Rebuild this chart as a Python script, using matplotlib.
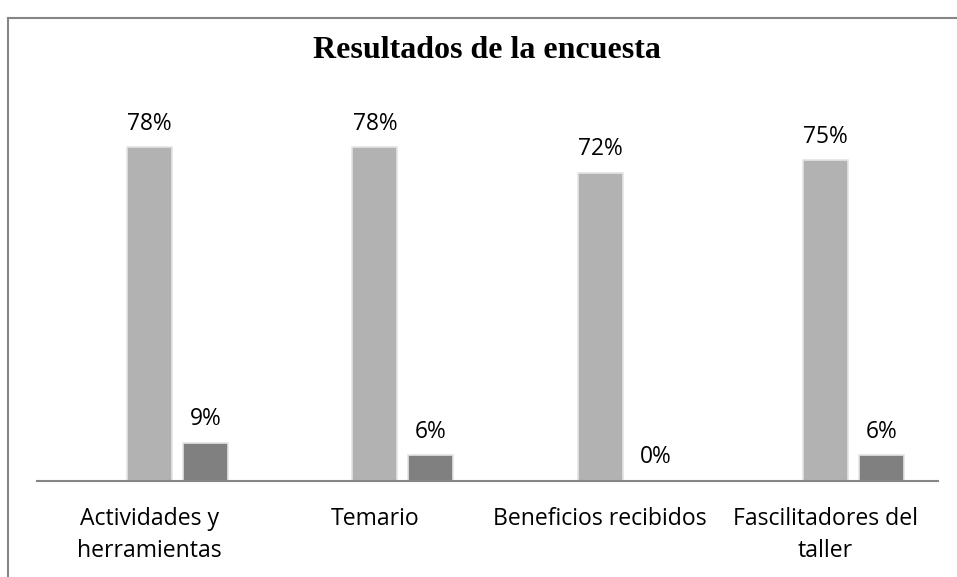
import numpy as np
import matplotlib
matplotlib.use("Agg")
from matplotlib import pyplot as plt
from matplotlib.lines import Line2D

# survey results, percent
categories = ["Actividades y\nherramientas", "Temario", "Beneficios recibidos", "Fascilitadores del\ntaller"]
serie_a = [78, 78, 72, 75]
serie_b = [9, 6, 0, 6]

fig = plt.figure(figsize=(9.57, 5.77), dpi=100)
ax = fig.add_axes([37/957, 96/577, 901/957, 385/577])

x = np.arange(len(categories))
width = 0.2
step = 0.249

bars_a = ax.bar(x, serie_a, width, color="#b2b2b2", edgecolor="#e4e4e4", linewidth=1.2)
bars_b = ax.bar(x + step, serie_b, width, color="#808080", edgecolor="#e4e4e4", linewidth=1.2)

for bars, vals in ((bars_a, serie_a), (bars_b, serie_b)):
    for b, v in zip(bars, vals):
        ax.annotate("{}%".format(v), (b.get_x() + b.get_width()/2, v),
                    xytext=(0, 17), textcoords="offset points",
                    ha="center", va="center", fontsize=16.4, family="Open Sans", color="#000000")

ax.set_xlim(-0.5, len(categories) - 0.5)
ax.set_ylim(0, 90)
ax.set_xticks(x)
ax.set_xticklabels(categories, fontsize=16.6, family="Open Sans", linespacing=1.4)
ax.tick_params(axis="x", length=0, pad=19)
ax.set_yticks([])
for s in ("top", "right", "left"):
    ax.spines[s].set_visible(False)
ax.spines["bottom"].set_color("#868686")
ax.spines["bottom"].set_linewidth(1.5)

fig.text(487/957, 1 - 50/577, "Resultados de la encuesta", ha="center", va="center",
         fontsize=23, fontweight="bold", family="Liberation Serif")

# chart frame (top and left edges visible)
fig.add_artist(Line2D([8/957, 1], [1 - 18/577, 1 - 18/577], color="#868686", lw=1.5, transform=fig.transFigure))
fig.add_artist(Line2D([8/957, 8/957], [0, 1 - 18/577], color="#868686", lw=1.5, transform=fig.transFigure))

fig.savefig("out.png", dpi=100)
